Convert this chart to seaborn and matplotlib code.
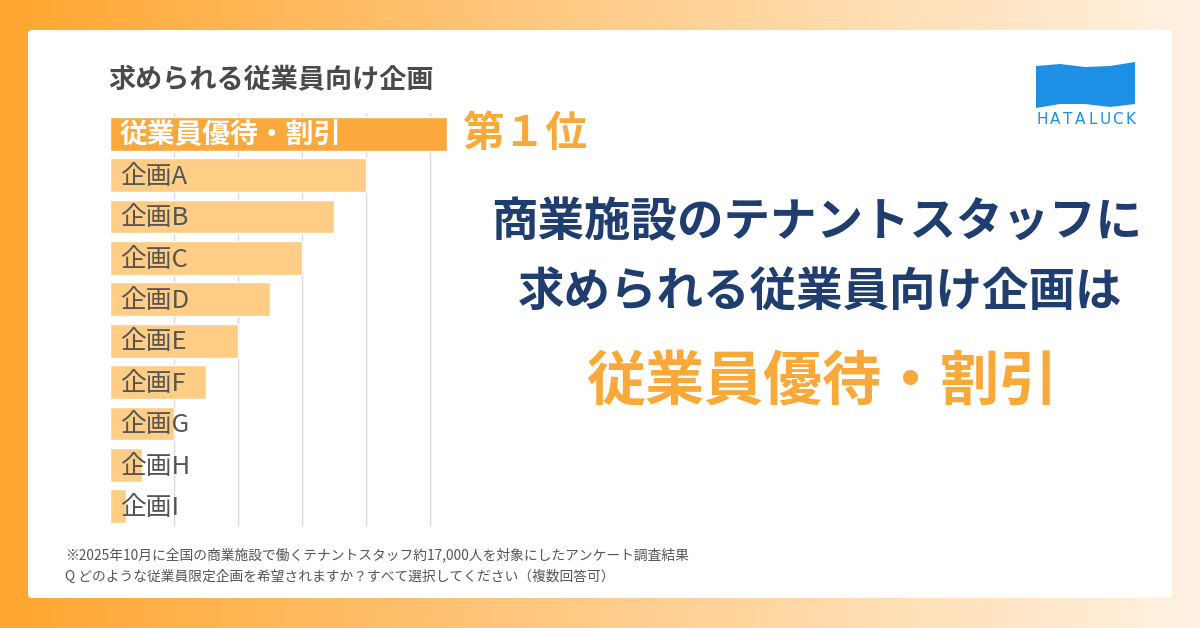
import matplotlib.pyplot as plt
import numpy as np
import seaborn as sns
from matplotlib.patches import FancyBboxPatch, Polygon

# data
labels = ["従業員優待・割引", "企画A", "企画B", "企画C", "企画D",
          "企画E", "企画F", "企画G", "企画H", "企画I"]
values = [52.7, 40, 35, 30, 25, 20, 15, 10, 5, 2.5]
bar_colors = ["#FBA93C"] + ["#FFCD85"] * 9

title = "求められる従業員向け企画"
rank_text = "第１位"
headline = ["商業施設のテナントスタッフに", "求められる従業員向け企画は"]
answer = "従業員優待・割引"
notes = ["※2025年10月に全国の商業施設で働くテナントスタッフ約17,000人を対象にしたアンケート調査結果",
         "Q どのような従業員限定企画を希望されますか？すべて選択してください（複数回答可）"]
logo_text = "HATALUCK"

sns.set_theme(style="white")
plt.rcParams['font.family'] = ['Noto Sans CJK JP', 'DejaVu Sans']

W, H = 1200, 628
fig = plt.figure(figsize=(12, 6.28), dpi=100)

# background layer in pixel coords
bg = fig.add_axes([0, 0, 1, 1])
bg.set_xlim(0, W)
bg.set_ylim(H, 0)
bg.axis("off")
left_c = np.array([255, 166, 48]) / 255
right_c = np.array([255, 242, 226]) / 255
t = np.linspace(0, 1, 256)[None, :, None]
grad = left_c * (1 - t) + right_c * t
bg.imshow(grad, extent=[0, W, H, 0], aspect="auto", zorder=0)
bg.add_patch(FancyBboxPatch((28, 30), 1144, 568, boxstyle="round,pad=0,rounding_size=4",
                            facecolor="white", edgecolor="none", zorder=1))

# logo
flag = Polygon([(1036, 66), (1060, 64), (1085, 67), (1110, 66), (1135, 62),
                (1135, 104), (1110, 107), (1085, 104), (1060, 104), (1036, 108)],
               closed=True, facecolor="#1E8FE6", edgecolor="none", zorder=2)
bg.add_patch(flag)
for k, ch in enumerate(logo_text):
    bg.text(1042 + k * 12.6, 119, ch, ha="center", va="center", fontsize=11,
            color="#1E8FE6", family="DejaVu Sans", zorder=2)

# texts
bg.text(108, 80, title, ha="left", va="center", fontsize=19.5, fontweight="bold",
        color="#4A4A4A", zorder=2)
bg.text(817, 222, headline[0], ha="center", va="center", fontsize=33.5,
        fontweight="bold", color="#1F3D6E", zorder=2)
bg.text(820, 292, headline[1], ha="center", va="center", fontsize=33.5,
        fontweight="bold", color="#1F3D6E", zorder=2)
bg.text(822, 383, answer, ha="center", va="center", fontsize=42.5,
        fontweight="bold", color="#F9A93A", zorder=2)
bg.text(65, 555, notes[0], ha="left", va="center", fontsize=9.9, color="#555555", zorder=2)
bg.text(65, 577, notes[1], ha="left", va="center", fontsize=9.9, color="#555555", zorder=2)

# bar chart
xmax = 53
ax = fig.add_axes([110 / W, 1 - 527 / H, xmax * 6.4 / W, 414 / H])
ax.patch.set_alpha(0)
sns.barplot(x=values, y=labels, hue=labels, palette=bar_colors, orient="h",
            width=0.82, legend=False, saturation=1, ax=ax, zorder=2)
ax.set_xlim(0, xmax)
ax.set_xticks([10, 20, 30, 40, 50])
ax.grid(axis="x", color="#DADADA", linewidth=1, zorder=0)
ax.set_axisbelow(True)
ax.tick_params(left=False, bottom=False, labelleft=False, labelbottom=False)
for s in ax.spines.values():
    s.set_visible(False)
ax.set_xlabel("")
ax.set_ylabel("")

for i, lab in enumerate(labels):
    if i == 0:
        ax.text(1.5, i + 0.04, lab, va="center", ha="left", fontsize=20,
                fontweight="bold", color="white", zorder=3)
    else:
        ax.text(1.5, i + 0.04, lab, va="center", ha="left", fontsize=18.5,
                color="#555555", zorder=3)

ax.annotate(rank_text, xy=(values[0], 0), xytext=(11, 0), textcoords="offset points",
            va="center", ha="left", fontsize=30, fontweight="bold",
            color="#F9A93A", annotation_clip=False)

fig.savefig("out.png", dpi=100)
